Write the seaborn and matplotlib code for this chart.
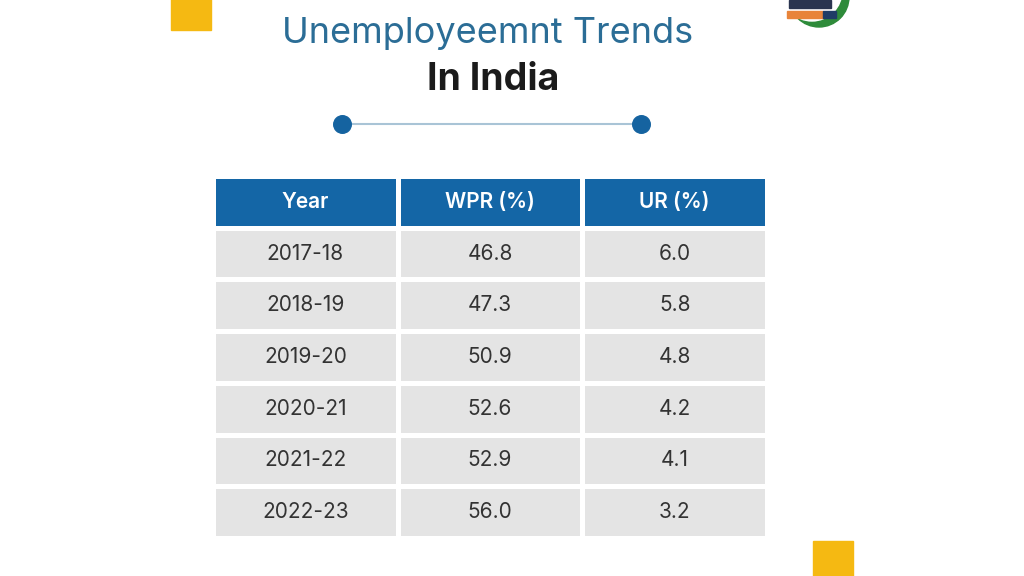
import numpy as np
import pandas as pd
import matplotlib.pyplot as plt
import seaborn as sns
from matplotlib.colors import ListedColormap
from matplotlib.patches import Rectangle, Circle

# Données du tableau
years = ["2017-18", "2018-19", "2019-20", "2020-21", "2021-22", "2022-23"]
wpr = [46.8, 47.3, 50.9, 52.6, 52.9, 56.0]
ur = [6.0, 5.8, 4.8, 4.2, 4.1, 3.2]
headers = ["Year", "WPR (%)", "UR (%)"]

sns.set_theme(style="white")
plt.rcParams["font.family"] = ["Inter", "DejaVu Sans"]

# Tableau de textes + matrice de couleur (1 = en-tête, 0 = cellule)
labels = [headers] + [[y, f"{w:.1f}", f"{u:.1f}"] for y, w, u in zip(years, wpr, ur)]
labels = np.array(labels)
kind = np.zeros(labels.shape)
kind[0, :] = 1
table = pd.DataFrame(kind, columns=headers)

fig = plt.figure(figsize=(10.24, 5.76), dpi=100)

# Fond / décorations en coordonnées pixels
bg = fig.add_axes([0, 0, 1, 1])
bg.set_xlim(0, 1024)
bg.set_ylim(576, 0)
bg.axis("off")
bg.add_patch(Rectangle((171, -2), 40, 32, color="#f5b912"))
bg.add_patch(Rectangle((813, 541), 40, 40, color="#f5b912"))
# logo (approximatif)
bg.add_patch(Circle((819, -3), 30, color="#2e8b3a"))
bg.add_patch(Circle((812, -9), 30, color="white"))
bg.add_patch(Rectangle((787, 11), 36, 7, color="#e8843a"))
bg.add_patch(Rectangle((823, 11), 13, 7, color="#1f3c66"))
bg.add_patch(Rectangle((789, 0), 42, 8, color="#2a3550"))

bg.text(488, 34, "Unemployeemnt Trends", ha="center", va="center",
        fontsize=26, color="#2b6d96")
bg.text(493, 80, "In India", ha="center", va="center",
        fontsize=27, fontweight="bold", color="#1b1b1b")
bg.plot([342, 641], [124, 124], color="#a9c4d6", lw=1.5)
bg.scatter([342, 641], [124, 124], s=160, color="#1563a0", zorder=3)

# Tableau dessiné avec une heatmap
ax = fig.add_axes([213 / 1024, 38 / 576, 554 / 1024, 362 / 576])
sns.heatmap(table, ax=ax, cmap=ListedColormap(["#e4e4e4", "#1466a6"]),
            vmin=0, vmax=1, cbar=False, annot=labels, fmt="",
            linewidths=3.6, linecolor="white",
            annot_kws={"fontsize": 15})
for t, k in zip(ax.texts, kind.flatten()):
    if k == 1:
        t.set_color("white")
        t.set_fontweight("semibold")
    else:
        t.set_color("#333333")
ax.set_xticks([])
ax.set_yticks([])
ax.set_xlabel("")
ax.set_ylabel("")

fig.savefig("out.png", dpi=100)
